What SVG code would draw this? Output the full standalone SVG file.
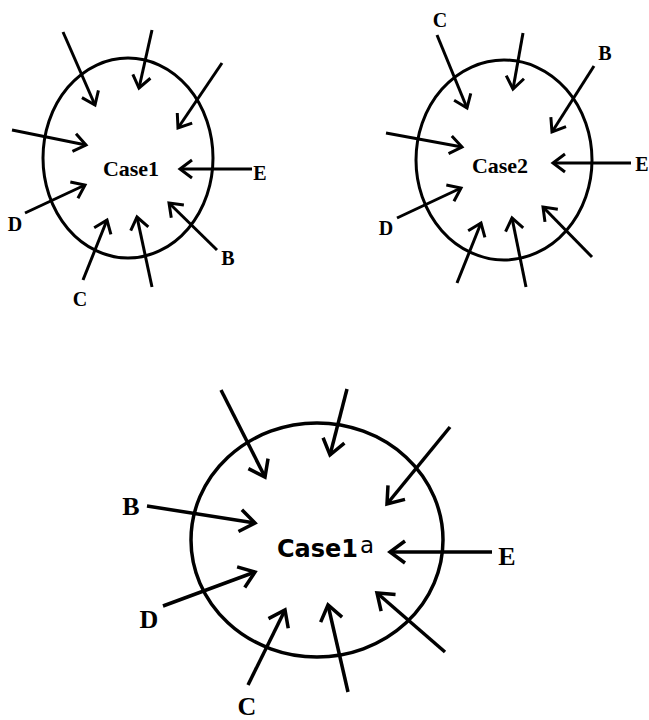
<svg xmlns="http://www.w3.org/2000/svg" width="649" height="720" viewBox="0 0 649 720">
<style>
.ring{fill:none;stroke:#000;stroke-width:3}
.ring3{fill:none;stroke:#000;stroke-width:3.5}
.a{fill:none;stroke:#000;stroke-width:3;marker-end:url(#h)}
.a3{fill:none;stroke:#000;stroke-width:3.5;marker-end:url(#h3)}
.t{font-family:"Liberation Serif",serif;font-weight:bold;fill:#000;text-anchor:middle}
.lab{font-size:20px}
.lab3{font-size:26px}
.case{font-size:22px}
.case3{font-family:"DejaVu Sans",sans-serif;font-weight:bold;font-size:24px;fill:#000}
.sup{font-family:"DejaVu Sans",sans-serif;font-weight:normal;font-size:23px;fill:#000}
</style>
<defs>
<marker id="h" markerUnits="userSpaceOnUse" viewBox="-16 -12 20 24" refX="0" refY="0" markerWidth="20" markerHeight="24" orient="auto">
<path d="M-12,-9 L0,0 L-12,9" fill="none" stroke="#000" stroke-width="3"/>
</marker>
<marker id="h3" markerUnits="userSpaceOnUse" viewBox="-20 -14 24 28" refX="0" refY="0" markerWidth="24" markerHeight="28" orient="auto">
<path d="M-15,-11 L0,0 L-15,11" fill="none" stroke="#000" stroke-width="3.5"/>
</marker>
</defs>
<rect width="649" height="720" fill="#fff"/>

<g id="case1">
<ellipse class="ring" cx="128" cy="158" rx="85" ry="100"/>
<text class="t case" x="131" y="176">Case1</text>
<text class="t lab" x="260" y="180">E</text>
<text class="t lab" x="15" y="231">D</text>
<text class="t lab" x="228" y="265">B</text>
<text class="t lab" x="80" y="306">C</text>
</g>

<g id="case2">
<ellipse class="ring" cx="504" cy="160" rx="88" ry="100"/>
<text class="t case" x="500" y="173">Case2</text>
<text class="t lab" x="642" y="171">E</text>
<text class="t lab" x="386" y="235">D</text>
<text class="t lab" x="605" y="60">B</text>
<text class="t lab" x="440" y="27">C</text>
</g>

<g id="case1a">
<ellipse class="ring3" cx="317" cy="540" rx="126" ry="117"/>
<text x="277" y="557"><tspan class="case3">Case1</tspan><tspan class="sup" dx="2" dy="-4">a</tspan></text>
<text class="t lab3" x="131" y="515">B</text>
<text class="t lab3" x="507" y="565">E</text>
<text class="t lab3" x="149" y="628">D</text>
<text class="t lab3" x="247" y="715">C</text>
</g>

<g id="connectors">
<line class="a" x1="63" y1="32" x2="95" y2="105"/>
<line class="a" x1="152" y1="30" x2="139" y2="88"/>
<line class="a" x1="222" y1="63" x2="178" y2="128"/>
<line class="a" x1="12" y1="130" x2="86" y2="145"/>
<line class="a" x1="252" y1="169" x2="180" y2="169"/>
<line class="a" x1="25" y1="213" x2="85" y2="185"/>
<line class="a" x1="83" y1="280" x2="107" y2="220"/>
<line class="a" x1="152" y1="287" x2="137" y2="217"/>
<line class="a" x1="217" y1="250" x2="169" y2="203"/>

<line class="a" x1="437" y1="35" x2="467" y2="108"/>
<line class="a" x1="523" y1="33" x2="513" y2="89"/>
<line class="a" x1="594" y1="66" x2="552" y2="132"/>
<line class="a" x1="386" y1="133" x2="462" y2="147"/>
<line class="a" x1="631" y1="163" x2="553" y2="163"/>
<line class="a" x1="397" y1="218" x2="461" y2="188"/>
<line class="a" x1="457" y1="283" x2="481" y2="223"/>
<line class="a" x1="526" y1="287" x2="512" y2="218"/>
<line class="a" x1="592" y1="257" x2="543" y2="207"/>

<line class="a3" x1="221" y1="390" x2="265" y2="477"/>
<line class="a3" x1="347" y1="389" x2="330" y2="455"/>
<line class="a3" x1="450" y1="427" x2="387" y2="504"/>
<line class="a3" x1="147" y1="506" x2="255" y2="523"/>
<line class="a3" x1="492" y1="552" x2="390" y2="552"/>
<line class="a3" x1="163" y1="606" x2="255" y2="572"/>
<line class="a3" x1="248" y1="685" x2="285" y2="610"/>
<line class="a3" x1="348" y1="692" x2="328" y2="605"/>
<line class="a3" x1="445" y1="652" x2="377" y2="593"/>
</g>
</svg>
